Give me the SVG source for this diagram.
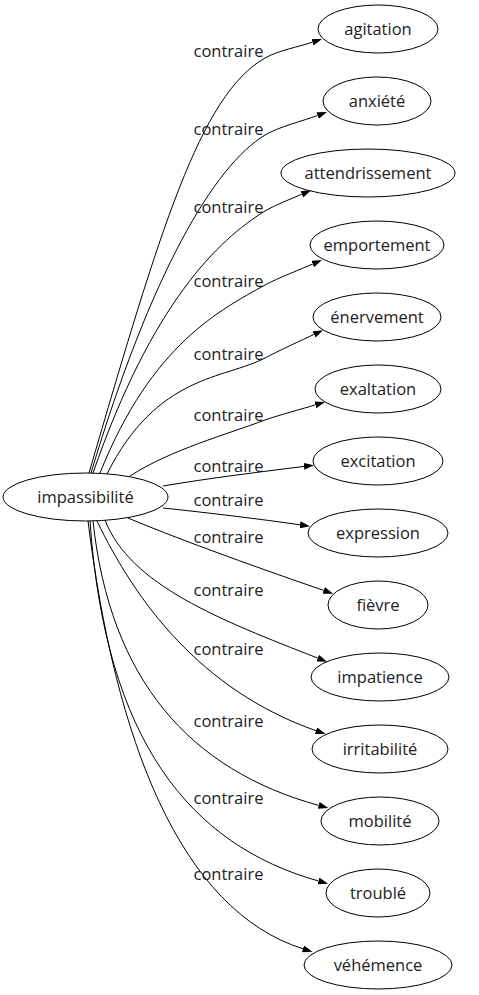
<svg xmlns="http://www.w3.org/2000/svg" width="479" height="995" viewBox="0 0 479 995">
<style>
text{font-family:"Open Sans","DejaVu Sans",sans-serif;font-size:16.5px;fill:#222}
.n text{text-anchor:middle}
.n ellipse{fill:none;stroke:#000;stroke-width:1}
.e path{fill:none;stroke:#000;stroke-width:1;marker-end:url(#ah)}
.l text{text-anchor:middle}
</style>
<defs>
<marker id="ah" viewBox="0 0 10 7" refX="0" refY="3.5" markerWidth="10" markerHeight="7" markerUnits="userSpaceOnUse" orient="auto">
<path d="M0,0 L10,3.5 L0,7 Z" fill="#000"/>
</marker>
</defs>
<rect width="479" height="995" fill="#fff"/>
<g id="edges" class="e">
<path d="M89,473 C160,230 200,95 265,58 C278,50.6 298.3,46.9 312.5,42.2"/>
<path d="M91,473 C151,273 214,166 265,135 C277.8,127.2 303.5,120.7 317.6,115.5"/>
<path d="M93,473 C152,303 218,240 265,211 C275,205 291,199 301.9,194.2"/>
<path d="M100,473 C152,343 221.5,309.5 265,285 C278,278 301.8,268.8 312.8,264"/>
<path d="M107,474 C157,374 225,379 265,358 C276,352 303,339.6 314,334.4"/>
<path d="M130,476 C170,450 228,434 265,420 C276,416 304,408.3 315.4,404.9"/>
<path d="M163,486 C210,478 260,472 304,466.4"/>
<path d="M163,508 C210,513 260,519 300,524.8"/>
<path d="M128,518 C180,540 270,572 323.7,590.4"/>
<path d="M105,520 C130,585 220,620 317.8,658.1"/>
<path d="M97,521 C135,600 200,690 316,730.7"/>
<path d="M93,521 C110,680 190,770 318.7,805.4"/>
<path d="M90,521 C105,740 190,845 318.5,881"/>
<path d="M88,521 C115,740 180,910 303,948.8"/>
</g>
<g id="labels" class="l">
<text x="228.5" y="57">contraire</text>
<text x="228.5" y="135">contraire</text>
<text x="228.5" y="213">contraire</text>
<text x="228.5" y="287">contraire</text>
<text x="228.5" y="360">contraire</text>
<text x="228.5" y="421">contraire</text>
<text x="228.5" y="472">contraire</text>
<text x="228.5" y="506">contraire</text>
<text x="228.5" y="543">contraire</text>
<text x="228.5" y="596">contraire</text>
<text x="228.5" y="655">contraire</text>
<text x="228.5" y="727">contraire</text>
<text x="228.5" y="804">contraire</text>
<text x="228.5" y="880">contraire</text>
</g>
<g id="impassibilite" class="n"><ellipse cx="85.5" cy="497" rx="82.5" ry="24"/><text x="85.5" y="503">impassibilité</text></g>
<g id="agitation" class="n"><ellipse cx="378" cy="29" rx="60" ry="24"/><text x="378" y="35">agitation</text></g>
<g id="anxiete" class="n"><ellipse cx="377" cy="101" rx="54" ry="24"/><text x="377" y="107">anxiété</text></g>
<g id="attendrissement" class="n"><ellipse cx="368" cy="173" rx="87" ry="24"/><text x="368" y="179">attendrissement</text></g>
<g id="emportement" class="n"><ellipse cx="377" cy="245" rx="67" ry="24"/><text x="377" y="251">emportement</text></g>
<g id="enervement" class="n"><ellipse cx="377" cy="317" rx="64" ry="24"/><text x="377" y="323">énervement</text></g>
<g id="exaltation" class="n"><ellipse cx="378" cy="389" rx="63" ry="24"/><text x="378" y="395">exaltation</text></g>
<g id="excitation" class="n"><ellipse cx="378" cy="461" rx="65" ry="24"/><text x="378" y="467">excitation</text></g>
<g id="expression" class="n"><ellipse cx="378" cy="533" rx="70" ry="24"/><text x="378" y="539">expression</text></g>
<g id="fievre" class="n"><ellipse cx="378" cy="605" rx="50" ry="24"/><text x="378" y="611">fièvre</text></g>
<g id="impatience" class="n"><ellipse cx="380" cy="677" rx="69" ry="24"/><text x="380" y="683">impatience</text></g>
<g id="irritabilite" class="n"><ellipse cx="380" cy="749" rx="68" ry="24"/><text x="380" y="755">irritabilité</text></g>
<g id="mobilite" class="n"><ellipse cx="380" cy="821" rx="59" ry="24"/><text x="380" y="827">mobilité</text></g>
<g id="trouble" class="n"><ellipse cx="378" cy="893" rx="52" ry="24"/><text x="378" y="899">troublé</text></g>
<g id="vehemence" class="n"><ellipse cx="378" cy="965" rx="74" ry="24"/><text x="378" y="971">véhémence</text></g>
</svg>
